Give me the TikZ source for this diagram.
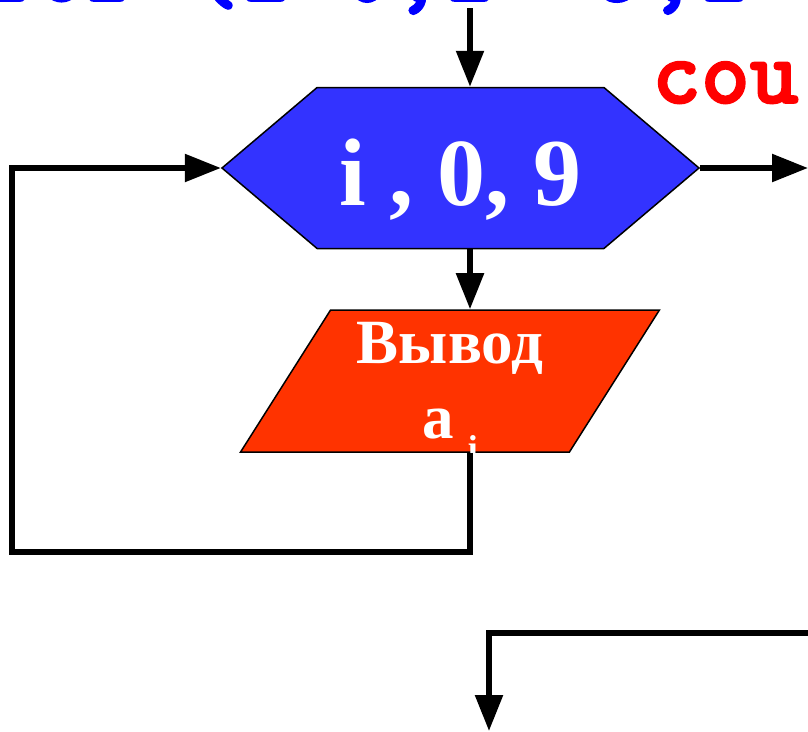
\documentclass[tikz,border=0pt]{standalone}
\usepackage{fontspec}
\setmainfont{Liberation Serif}
\newfontfamily\codefont{Latin Modern Mono Light}[BoldFeatures={FakeBold=2}]
\usepackage{tikz}
\usetikzlibrary{arrows.meta}
\usetikzlibrary{shapes.geometric}
\usetikzlibrary{shapes.symbols}

\definecolor{loopblue}{RGB}{51,51,255}
\definecolor{outred}{RGB}{255,51,0}

\begin{document}
\begin{tikzpicture}[x=1pt, y=-1pt,
        flow/.style={line width=5.5pt},
        arr/.style={flow, -{Triangle[length=36pt,width=27pt]}},
        code/.style={inner sep=0pt, anchor=base west, font=\codefont\bfseries\fontsize{97}{97}\selectfont},
        box/.style={draw, line width=1.5pt, inner sep=0pt, text=white}]
        \useasboundingbox (0,0) rectangle (808,731);

        \node[code, text=blue] (header) at (-15,1) {for (i=0;i<=9;i++)};
        \node[code, text=red, font=\codefont\bfseries\fontsize{93}{93}\selectfont] (cout) at (652,103) {cou};

        \node[box, fill=loopblue, shape=signal, signal to=west and east, signal pointer angle=80.5,
              minimum width=477pt, minimum height=161pt, text height=90pt, text depth=16pt,
              font=\bfseries\fontsize{96}{96}\selectfont] (loop) at (460.5,168) {i , 0, 9};
        \node[box, fill=outred, trapezium, trapezium left angle=59, trapezium right angle=121,
              trapezium stretches=true, minimum width=420pt, minimum height=142pt, align=center,
              font=\bfseries\fontsize{63}{75}\selectfont] (outp) at (450,381)
              {Вывод\\a\hspace{14pt}\smash{\raisebox{-22pt}{\fontsize{36}{36}\selectfont i}}};

        \coordinate (entry) at (470,8);
        \coordinate (back) at (12,552);
        \coordinate (exit) at (808,168);
        \coordinate (merge) at (808,633);
        \coordinate (next) at (489,731);

        \draw[arr] (entry) -- (entry |- loop.north);
        \draw[arr] (entry |- loop.south) -- (entry |- outp.north);
        \draw[arr] (entry |- outp.south) |- (back) |- (loop.west);
        \draw[arr] (loop.east) -- (exit);
        \draw[arr] (merge) -| (next);
    \end{tikzpicture}
\end{document}
